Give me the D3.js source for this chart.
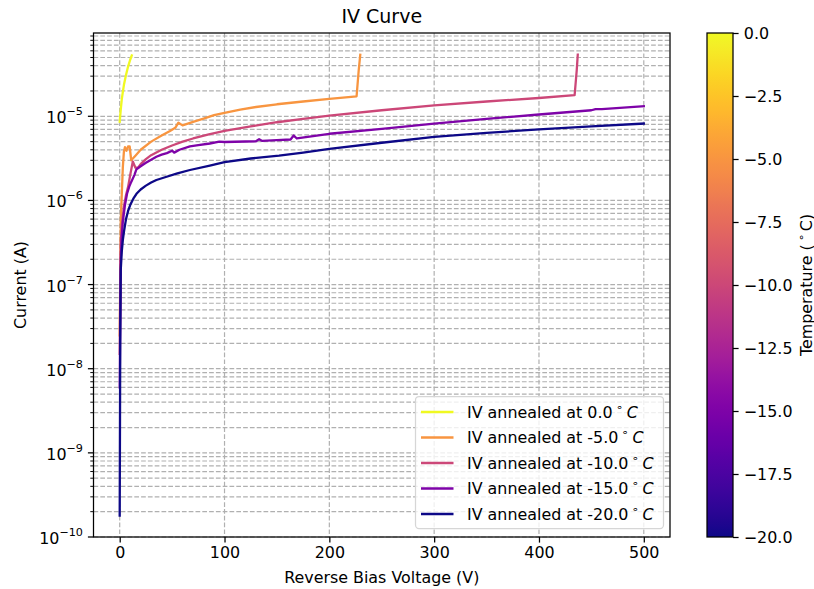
<!DOCTYPE html>
<html>
<head>
<meta charset="utf-8">
<script src="https://cdn.jsdelivr.net/npm/d3@7"></script>
<style>
    body { margin: 0; background: #fff; }
    svg { font-family: "DejaVu Sans", sans-serif; }
</style>
</head>
<body>
<svg id="chart"></svg>
<script>
// annealing temperatures (deg C), one curve each
const temperatures = [0.0, -5.0, -10.0, -15.0, -20.0];

const voltage_0 = [0, 1, 2, 3, 4, 6, 8, 10, 11.5];
const current_0 = [8.6e-6, 1.2e-5, 1.6e-5, 1.95e-5, 2.35e-5, 3.1e-5, 3.9e-5, 4.7e-5, 5.3e-5];

const voltage_5 = [0, 1, 2, 3, 4, 5, 6.5, 8, 9.5, 11, 15, 20, 30, 40, 48, 53, 56, 60, 70, 80, 90, 100, 115, 130, 150, 175, 200, 226, 228, 229.5];
const current_5 = [2.5e-8, 5.8e-7, 1.2e-6, 2.5e-6, 3.8e-6, 4.3e-6, 3.9e-6, 4.4e-6, 4.4e-6, 3.0e-6, 3.4e-6, 4.0e-6, 5.0e-6, 5.9e-6, 6.7e-6, 7.3e-6, 8.4e-6, 7.8e-6, 8.6e-6, 9.4e-6, 1.03e-5, 1.1e-5, 1.2e-5, 1.29e-5, 1.39e-5, 1.5e-5, 1.61e-5, 1.73e-5, 3.5e-5, 5.4e-5];

const voltage_10 = [0, 1, 2, 4, 6, 8, 10, 12.5, 15, 17.5, 20, 25, 30, 40, 50, 60, 70, 85, 100, 125, 150, 175, 200, 250, 300, 350, 400, 434, 436, 437];
const current_10 = [1.5e-8, 3.0e-7, 5.0e-7, 8.5e-7, 1.15e-6, 1.45e-6, 2.0e-6, 2.9e-6, 2.45e-6, 2.45e-6, 2.7e-6, 3.1e-6, 3.45e-6, 4.0e-6, 4.5e-6, 5.0e-6, 5.45e-6, 6.1e-6, 6.7e-6, 7.6e-6, 8.5e-6, 9.3e-6, 1.02e-5, 1.18e-5, 1.35e-5, 1.5e-5, 1.65e-5, 1.78e-5, 3.5e-5, 5.4e-5];

const voltage_15 = [0, 1, 2, 3, 5, 7, 9, 11, 14, 16, 20, 25, 30, 35, 40, 45, 50, 52, 57, 67, 75, 86, 95, 100, 130, 133, 136, 150, 163, 166, 169, 200, 250, 300, 350, 400, 450, 454, 460, 500];
const current_15 = [6e-9, 2.0e-7, 3.8e-7, 5.6e-7, 8.8e-7, 1.2e-6, 1.45e-6, 1.66e-6, 2.0e-6, 2.35e-6, 2.55e-6, 2.8e-6, 3.05e-6, 3.3e-6, 3.5e-6, 3.65e-6, 3.9e-6, 3.7e-6, 4.0e-6, 4.4e-6, 4.55e-6, 4.75e-6, 5.0e-6, 4.95e-6, 5.05e-6, 5.35e-6, 5.1e-6, 5.2e-6, 5.3e-6, 5.9e-6, 5.45e-6, 6.2e-6, 7.1e-6, 8.2e-6, 9.3e-6, 1.05e-5, 1.18e-5, 1.22e-5, 1.22e-5, 1.32e-5];

const voltage_20 = [0, 0.5, 1, 2, 3, 4, 6, 8, 10, 13, 16, 20, 25, 30, 35, 44, 55, 67, 86, 100, 125, 152, 175, 200, 250, 300, 350, 400, 450, 500];
const current_20 = [1.8e-10, 2e-8, 1.5e-7, 2.5e-7, 3.4e-7, 4.2e-7, 6.0e-7, 7.5e-7, 8.8e-7, 1.05e-6, 1.2e-6, 1.35e-6, 1.5e-6, 1.63e-6, 1.75e-6, 1.9e-6, 2.1e-6, 2.3e-6, 2.6e-6, 2.85e-6, 3.15e-6, 3.4e-6, 3.7e-6, 4.1e-6, 4.85e-6, 5.7e-6, 6.35e-6, 7.0e-6, 7.6e-6, 8.2e-6];

const xTickValues = [0, 100, 200, 300, 400, 500];
const yTickExponents = [-10, -9, -8, -7, -6, -5];
const cbarTickValues = [0.0, -2.5, -5.0, -7.5, -10.0, -12.5, -15.0, -17.5, -20.0];

class IVCurvePlot {

    constructor(config) {
        this.config = {
            parent: config.parent,
            width: config.width || 814,
            height: config.height || 589,
            margin: config.margin || {top: 33, right: 144, bottom: 52, left: 93.5},
            title: config.title || '',
            xlabel: config.xlabel || '',
            ylabel: config.ylabel || ''
        }
        this.init();
    }

    init() {
        let self = this;

        self.svg = d3.select(self.config.parent)
            .attr('width', self.config.width)
            .attr('height', self.config.height);

        self.inner_width = self.config.width - self.config.margin.left - self.config.margin.right;
        self.inner_height = self.config.height - self.config.margin.top - self.config.margin.bottom;

        self.xScale = d3.scaleLinear()
            .domain([-25, 525])
            .range([self.config.margin.left, self.config.margin.left + self.inner_width]);
        self.yScale = d3.scaleLog()
            .domain([1e-10, Math.pow(10, -4.01)])
            .range([self.config.margin.top + self.inner_height, self.config.margin.top]);
        self.cScale = d3.scaleLinear().domain([-20, 0]).range([0, 1]);

        self.series = temperatures.map(function (t, i) {
            let volts = [voltage_0, voltage_5, voltage_10, voltage_15, voltage_20][i];
            let amps = [current_0, current_5, current_10, current_15, current_20][i];
            return {
                temp: t,
                color: d3.interpolatePlasma(self.cScale(t)),
                points: volts.map((v, j) => ({v: v, i: amps[j]}))
            };
        });
    }

    render() {
        let self = this;
        const left = self.config.margin.left;
        const right = left + self.inner_width;
        const top = self.config.margin.top;
        const bottom = top + self.inner_height;
        const gridColor = '#b0b0b0';
        const dash = '4.7,2.1';
        const fs = '15.9px';

        // grid, minor and major on y, major on x
        let grid = self.svg.append('g').attr('class', 'grid');
        let yGridValues = [];
        for (let e = -10; e <= -5; e++) {
            for (let m = 1; m <= 9; m++) {
                let val = m * Math.pow(10, e);
                if (val >= 1e-10 && val <= self.yScale.domain()[1]) yGridValues.push(val);
            }
        }
        grid.selectAll('line.gy')
            .data(yGridValues)
            .join('line')
            .attr('class', 'gy')
            .attr('x1', left).attr('x2', right)
            .attr('y1', d => self.yScale(d)).attr('y2', d => self.yScale(d))
            .attr('stroke', gridColor)
            .attr('stroke-width', 1.2)
            .attr('stroke-dasharray', dash);
        grid.selectAll('line.gx')
            .data(xTickValues)
            .join('line')
            .attr('class', 'gx')
            .attr('x1', d => self.xScale(d)).attr('x2', d => self.xScale(d))
            .attr('y1', top).attr('y2', bottom)
            .attr('stroke', gridColor)
            .attr('stroke-width', 1.2)
            .attr('stroke-dasharray', dash);

        // curves
        let line = d3.line()
            .x(d => self.xScale(d.v))
            .y(d => self.yScale(d.i));
        self.svg.append('g')
            .attr('class', 'curves')
            .selectAll('path')
            .data(self.series)
            .join('path')
            .attr('d', d => line(d.points))
            .attr('fill', 'none')
            .attr('stroke', d => d.color)
            .attr('stroke-width', 2.3)
            .attr('stroke-linejoin', 'round')
            .attr('stroke-linecap', 'square');

        // x axis
        let axisx = d3.axisBottom(self.xScale)
            .tickValues(xTickValues)
            .tickSizeInner(5.6)
            .tickSizeOuter(0)
            .tickPadding(4.5);
        let x = self.svg.append('g')
            .attr('class', 'axis axis-x')
            .attr('transform', 'translate(0,' + bottom + ')')
            .call(axisx);
        x.select('.domain').remove();
        x.selectAll('text').attr('font-size', fs).attr('fill', '#000').attr('font-family', 'DejaVu Sans');
        x.selectAll('line').attr('stroke', '#000').attr('stroke-width', 1.25);

        // y axis (log), major ticks + minor ticks
        let ymin = self.svg.append('g').attr('class', 'axis axis-y-minor');
        ymin.selectAll('line')
            .data(yGridValues.filter(v => !yTickExponents.some(e => Math.abs(Math.log10(v) - e) < 1e-9)))
            .join('line')
            .attr('x1', left - 3.2).attr('x2', left)
            .attr('y1', d => self.yScale(d)).attr('y2', d => self.yScale(d))
            .attr('stroke', '#000').attr('stroke-width', 0.95);
        let ymaj = self.svg.append('g').attr('class', 'axis axis-y');
        ymaj.selectAll('line')
            .data(yTickExponents)
            .join('line')
            .attr('x1', left - 5.6).attr('x2', left)
            .attr('y1', d => self.yScale(Math.pow(10, d))).attr('y2', d => self.yScale(Math.pow(10, d)))
            .attr('stroke', '#000').attr('stroke-width', 1.25);
        let ylabels = ymaj.selectAll('text')
            .data(yTickExponents)
            .join('text')
            .attr('x', left - 10.5)
            .attr('y', d => self.yScale(Math.pow(10, d)) + 7)
            .attr('text-anchor', 'end')
            .attr('font-size', fs);
        ylabels.append('tspan').text('10');
        ylabels.append('tspan')
            .attr('dy', -8)
            .attr('font-size', '11.2px')
            .text(d => '\u2212' + Math.abs(d));

        // frame
        self.svg.append('rect')
            .attr('x', left).attr('y', top)
            .attr('width', self.inner_width).attr('height', self.inner_height)
            .attr('fill', 'none')
            .attr('stroke', '#000')
            .attr('stroke-width', 1.25);

        // title and labels
        self.svg.append('text')
            .attr('x', (left + right) / 2)
            .attr('y', 23)
            .attr('text-anchor', 'middle')
            .attr('font-size', '19px')
            .text(self.config.title);
        self.svg.append('text')
            .attr('x', (left + right) / 2)
            .attr('y', 583)
            .attr('text-anchor', 'middle')
            .attr('font-size', fs)
            .text(self.config.xlabel);
        self.svg.append('text')
            .attr('transform', `translate(26, ${(top + bottom) / 2}) rotate(-90)`)
            .attr('text-anchor', 'middle')
            .attr('font-size', fs)
            .text(self.config.ylabel);

        self.renderLegend(right, bottom, fs);
        self.renderColorbar(top, bottom, fs);
    }

    renderLegend(right, bottom, fs) {
        let self = this;
        const boxW = 248, boxH = 132, rowH = 25.5;
        let lg = self.svg.append('g')
            .attr('class', 'legend')
            .attr('transform', `translate(${right - 6.5 - boxW}, ${bottom - 8.5 - boxH})`);
        lg.append('rect')
            .attr('width', boxW).attr('height', boxH)
            .attr('rx', 3.5)
            .attr('fill', 'rgba(255,255,255,0.8)')
            .attr('stroke', '#d6d6d6')
            .attr('stroke-width', 1.25);
        let rows = lg.selectAll('g.row')
            .data(self.series)
            .join('g')
            .attr('class', 'row')
            .attr('transform', (d, i) => `translate(0, ${15.5 + i * rowH})`);
        rows.append('line')
            .attr('x1', 5.5).attr('x2', 38)
            .attr('stroke', d => d.color)
            .attr('stroke-width', 2.3);
        let txt = rows.append('text')
            .attr('x', 51.5)
            .attr('y', 5.8)
            .attr('font-size', fs)
            .attr('fill', '#000');
        txt.append('tspan').text(d => 'IV annealed at ' + d.temp.toFixed(1));
        txt.append('tspan')
            .attr('dx', 3)
            .attr('dy', -7)
            .attr('font-size', '11.2px')
            .text('\u2218');
        txt.append('tspan')
            .attr('dx', 4)
            .attr('dy', 7)
            .attr('font-style', 'italic')
            .text('C');
    }

    renderColorbar(top, bottom, fs) {
        let self = this;
        const cx = 707, cw = 26;
        let defs = self.svg.append('defs');
        let grad = defs.append('linearGradient')
            .attr('id', 'plasma')
            .attr('x1', 0).attr('y1', 1).attr('x2', 0).attr('y2', 0);
        grad.selectAll('stop')
            .data(d3.range(0, 1.0001, 0.02))
            .join('stop')
            .attr('offset', d => d)
            .attr('stop-color', d => d3.interpolatePlasma(d));

        let cbScale = d3.scaleLinear().domain([-20, 0]).range([bottom, top]);
        let cb = self.svg.append('g').attr('class', 'colorbar');
        cb.append('rect')
            .attr('x', cx).attr('y', top)
            .attr('width', cw).attr('height', bottom - top)
            .attr('fill', 'url(#plasma)')
            .attr('stroke', '#000')
            .attr('stroke-width', 1.25);
        let axisc = d3.axisRight(cbScale)
            .tickValues(cbarTickValues)
            .tickFormat(d => d3.format('.1f')(d).replace('-', '\u2212'))
            .tickSizeInner(5.6)
            .tickSizeOuter(0)
            .tickPadding(5.2);
        let c = cb.append('g')
            .attr('transform', `translate(${cx + cw}, 0)`)
            .call(axisc);
        c.select('.domain').remove();
        c.selectAll('text').attr('font-size', fs).attr('fill', '#000').attr('font-family', 'DejaVu Sans');
        c.selectAll('line').attr('stroke', '#000').attr('stroke-width', 1.25);

        let lab = cb.append('text')
            .attr('transform', `translate(811.5, ${(top + bottom) / 2}) rotate(-90)`)
            .attr('text-anchor', 'middle')
            .attr('font-size', fs);
        lab.append('tspan').text('Temperature (');
        lab.append('tspan').attr('dx', 3).attr('dy', -7).attr('font-size', '11.2px').text('\u2218');
        lab.append('tspan').attr('dx', 3).attr('dy', 7).text('C)');
    }
}

let plot = new IVCurvePlot({
    parent: '#chart',
    width: 814,
    height: 589,
    title: 'IV Curve',
    xlabel: 'Reverse Bias Voltage (V)',
    ylabel: 'Current (A)'
});
plot.render();
</script>
</body>
</html>
